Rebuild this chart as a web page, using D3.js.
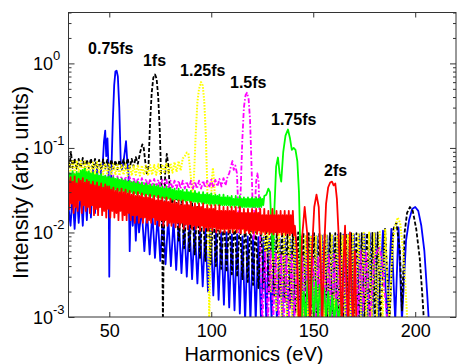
<!DOCTYPE html>
<html><head><meta charset="utf-8">
<script src="https://cdn.jsdelivr.net/npm/d3@7"></script>
<style>body{margin:0;background:#fff}svg{display:block}text{font-family:"Liberation Sans",Arial,sans-serif}</style>
</head><body><svg id="c" width="457" height="364"></svg>
<script>
// ---------------- data ----------------
const xTicks=[50,100,150,200];
const yTicks=[1e-3,1e-2,1e-1,1];
const yTickExp=["-3","-2","-1","0"];
const seriesNames=["0.75fs","1fs","1.25fs","1.5fs","1.75fs","2fs"];

const blue=[[30,.02],[31,.012],[32,.028],[33,.011],[34,.03],[35,.013],[36,.032],[37,.012],[38,.036],[39,.014],[40,.05],[41,.015],[42,.055],[43,.017],[44,.06],[45,.02],[46,.058],[46.8,.065],[47.4,.12],[48,.16],[48.5,.08],[49.1,.13],[49.6,.06],[50,.003],[50.4,.03],[51,.05],[51.7,.2],[52.4,.55],[53,.8],[53.6,.82],[54.2,.7],[54.9,.3],[55.6,.07],[56.2,.055],[57,.07],[57.6,.09],[58.2,.12],[58.8,.07],[59.4,.05],[60,.006],[60.6,.025],[61.5,.012],[62.3,.022],[63,.008],[63.8,.02],[64.6,.01],[65.9,.019],[67.2,.006],[68.5,.018],[69.8,.0055],[71.1,.017],[72.4,.005],[73.7,.016],[75,.0046],[76.3,.016],[77.6,.0042],[78.9,.015],[80.2,.004],[81.5,.014],[82.8,.0036],[84.1,.014],[85.4,.0033],[86.7,.013],[88,.003],[89.3,.013],[90.6,.0028],[91.9,.012],[93.2,.0025],[94.5,.012],[95.8,.0023],[97.1,.011],[98.4,.002],[99.7,.011],[101,.0018],[102.3,.0105],[103.6,.0016],[104.9,.01],[106.2,.0014],[107.5,.01],[108.8,.0013],[110.1,.0095],[111.4,.0012],[112.7,.0095],[114,.0011],[115.3,.009],[116.6,.0009],[117.9,.009],[119.2,.0009],[120.5,.009],[121.8,.0009],[123.1,.0088],[124.4,.0009],[125.7,.0088],[127,.0009],[128.3,.0085],[129.6,.0009],[130.9,.0085],[132.2,.0009],[133.5,.0085],[134.8,.0009],[136.1,.0085],[137.4,.0009],[138.7,.0085],[140,.0009],[141.3,.0088],[142.6,.0009],[143.9,.009],[145.2,.0009],[146.5,.009],[147.8,.0009],[149.1,.009],[150.4,.0009],[151.7,.009],[153,.0009],[154.3,.0092],[155.6,.0009],[156.9,.0092],[158.2,.0009],[159.5,.0092],[160.8,.0009],[162.1,.0094],[163.4,.0009],[164.7,.0094],[166,.0009],[167.3,.0095],[168.6,.0009],[169.9,.0095],[171.2,.0009],[172.5,.0095],[173.8,.0009],[175.1,.0097],[176.4,.0009],[177.7,.0098],[179,.0009],[180.3,.0098],[181.8,.0009],[184.2,.0105],[186.2,.0009],[188.3,.011],[190.2,.0009],[191.8,.0115],[193.5,.0009],[195.5,.008],[197,.014],[198.5,.019],[200,.02],[201.5,.018],[203,.012],[204.5,.006],[205.8,.002],[206.8,.0008]];

const black=[[30,.072],[30.6,.06],[31.2,.09],[32,.058],[33,.075],[34,.057],[35,.074],[36,.058],[37,.076],[38,.057],[39,.073],[40,.058],[41,.075],[42,.056],[43,.074],[44,.058],[45,.072],[46,.056],[47,.073],[48,.057],[49,.072],[50,.056],[51,.073],[52,.057],[53,.071],[54,.056],[55,.072],[56,.058],[57,.073],[58,.057],[59,.075],[60,.058],[61,.074],[62,.06],[63,.078],[64,.065],[65.2,.09],[66.2,.11],[66.9,.1],[67.6,.07],[68.4,.05],[69.2,.06],[70,.2],[70.8,.45],[71.6,.68],[72.4,.74],[73.2,.66],[74,.4],[74.8,.15],[75.5,.04],[76,.006],[76.3,.0008],[76.7,.008],[77.4,.05],[78.2,.085],[79,.06],[79.8,.03],[80.6,.02],[81.5,.026],[82.8,.025],[84.1,.008],[85.4,.024],[86.7,.0065],[88,.023],[89.3,.006],[90.6,.022],[91.9,.0055],[93.2,.021],[94.5,.005],[95.8,.02],[97.1,.0046],[98.4,.019],[99.7,.0042],[101,.018],[102.3,.004],[103.6,.017],[104.9,.0037],[106.2,.016],[107.5,.0034],[108.8,.015],[110.1,.0032],[111.4,.015],[112.7,.003],[114,.014],[115.3,.0028],[116.6,.014],[117.9,.0026],[119.2,.013],[120.5,.0024],[121.8,.013],[123.1,.0022],[124.4,.012],[125.7,.0021],[127,.012],[128.3,.002],[129.6,.0115],[130.9,.0018],[132.2,.011],[133.5,.0017],[134.8,.011],[136.1,.0015],[137.4,.0105],[138.7,.0013],[140,.0105],[141.3,.0011],[142.6,.01],[143.9,.0009],[145.2,.01],[146.5,.0009],[147.8,.0098],[149.1,.0009],[150.4,.0098],[151.7,.0009],[153,.0098],[154.3,.0009],[155.6,.0098],[156.9,.0009],[158.2,.0098],[159.5,.0009],[160.8,.0098],[162.1,.0009],[163.4,.0098],[164.7,.0009],[166,.0098],[167.3,.0009],[168.6,.0098],[169.9,.0009],[171.2,.0098],[172.5,.0009],[173.8,.0098],[175.1,.0009],[176.4,.0098],[177.7,.0009],[179,.0099],[180.3,.0009],[181.6,.01],[183,.0009],[185.2,.011],[187.4,.0009],[189.3,.011],[190.8,.013],[192.5,.006],[193.5,.0012],[194.8,.01],[196,.017],[197.4,.02],[198.8,.018],[200.5,.011],[202.2,.005],[203.5,.0018],[204.4,.0008]];

const yellow=[[30,.07],[31,.052],[32,.072],[33,.05],[34,.071],[35,.052],[36,.07],[37,.05],[38,.069],[39,.051],[40,.068],[41,.05],[42,.067],[43,.049],[44,.068],[45,.05],[46,.066],[47,.049],[48,.066],[49,.048],[50,.065],[51,.049],[52,.064],[53,.048],[54,.065],[55,.047],[56,.063],[57,.048],[58,.064],[59,.047],[60,.063],[61,.047],[62,.062],[63,.048],[64,.063],[65,.047],[66,.062],[67,.048],[68,.062],[69,.047],[70,.063],[71,.048],[72,.063],[73,.048],[74,.064],[75,.049],[76,.064],[77,.05],[78,.065],[79,.05],[80,.066],[81,.051],[82,.068],[83,.052],[84,.07],[85,.054],[86,.075],[87,.08],[88,.088],[88.8,.085],[89.5,.06],[90.2,.04],[90.9,.025],[91.6,.05],[92.4,.15],[93.2,.35],[94,.5],[95,.6],[95.8,.55],[96.6,.35],[97.3,.15],[98,.04],[98.6,.008],[99,.0008],[99.5,.005],[100.2,.04],[100.8,.058],[101.4,.04],[102,.02],[103.3,.011],[104.6,.018],[105.9,.011],[107.2,.017],[108.5,.0105],[109.8,.016],[111.1,.0105],[112.4,.015],[113.7,.01],[115,.014],[116.3,.01],[117.6,.0135],[118.9,.0098],[120.2,.013],[121.5,.0097],[122.8,.0125],[124.1,.0095],[125.4,.012],[126.7,.005],[128,.0115],[129.3,.002],[130.6,.011],[131.9,.0012],[133.2,.0105],[134.5,.001],[135.8,.01],[137.1,.0009],[138.4,.0098],[139.7,.0009],[141,.0095],[142.3,.0009],[143.6,.0094],[144.9,.0009],[146.2,.0093],[147.5,.0009],[148.8,.0092],[150.1,.0009],[151.4,.0092],[152.7,.0009],[154,.0092],[155.3,.0009],[156.6,.0092],[157.9,.0009],[159.2,.0093],[160.5,.0009],[161.8,.0093],[163.1,.0009],[164.4,.0094],[165.7,.0009],[167,.0095],[168.3,.0009],[169.6,.0096],[170.9,.0009],[172.2,.0098],[173.5,.0009],[174.8,.0099],[176.1,.0009],[177.4,.01],[178.7,.0009],[180,.01],[181.3,.0009],[182.6,.0102],[184,.0009],[185.3,.011],[187.2,.0009],[189,.008],[190.3,.012],[191.4,.015],[192.6,.013],[193.8,.007],[195,.003],[196.2,.0008]];

const magenta=[[30,.052],[31,.04],[32,.053],[33,.041],[34,.051],[35,.04],[36,.052],[37,.039],[38,.05],[39,.04],[40,.05],[41,.039],[42,.049],[43,.038],[44,.049],[45,.038],[46,.048],[47,.038],[48,.048],[49,.037],[50,.047],[51,.037],[52,.047],[53,.037],[54,.046],[55,.036],[56,.046],[57,.036],[58,.046],[59,.036],[60,.045],[61,.036],[62,.045],[63,.035],[64,.044],[65,.035],[66,.044],[67,.035],[68,.043],[69,.034],[70,.043],[71,.034],[72,.043],[73,.034],[74,.042],[75,.034],[76,.042],[77,.033],[78,.042],[79,.033],[80,.041],[81,.033],[82,.041],[83,.033],[84,.041],[85,.033],[86,.041],[87,.033],[88,.04],[89,.033],[90,.041],[91,.033],[92,.04],[93,.033],[94,.041],[95,.033],[96,.041],[97,.034],[98,.041],[99,.034],[100,.042],[101,.034],[102,.042],[103,.035],[104,.043],[105,.035],[106,.044],[107,.036],[108,.046],[108.8,.05],[109.6,.06],[110.4,.07],[111,.055],[111.8,.062],[112.6,.05],[113.2,.02],[113.8,.01],[114.4,.03],[115.2,.12],[116,.3],[116.8,.42],[117.5,.45],[118.3,.38],[119,.22],[119.6,.08],[120.2,.025],[120.8,.008],[121.4,.02],[122,.04],[122.6,.05],[123.2,.04],[123.8,.012],[124.4,.003],[125,.0008],[126.5,.006],[127.8,.0009],[129.1,.006],[130.4,.0009],[131.7,.0058],[133,.0009],[134.3,.0056],[135.6,.0009],[136.9,.0055],[138.2,.0009],[139.5,.0054],[140.8,.0009],[142.1,.0053],[143.4,.0009],[144.7,.0052],[146,.0009],[147.3,.0052],[148.6,.0009],[149.9,.0052],[151.2,.0009],[152.5,.0052],[153.8,.0009],[155.1,.0053],[156.4,.0009],[157.7,.0054],[159,.0009],[160.3,.0055],[161.6,.0009],[162.9,.0055],[164.2,.0009],[165.5,.0056],[166.8,.0009],[168.1,.0057],[169.4,.0009],[170.7,.0058],[172,.0009],[173.3,.006],[174.6,.0012],[176,.006],[177.8,.0009],[180,.005],[181.3,.006],[182.4,.0066],[183.6,.005],[185,.002],[186.5,.0008]];

const green=[[30,.052],[30.5,.038],[31,.05],[31.5,.036],[32,.053],[32.5,.039],[33,.049],[33.5,.036],[34,.052],[34.5,.038],[35,.05],[35.5,.037],[36,.054],[36.5,.039],[37,.055],[37.5,.04],[38,.057],[38.5,.038],[39,.052],[39.5,.036],[40,.053],[40.5,.037],[41,.05],[41.5,.035],[42,.051],[42.5,.036],[43,.048],[43.5,.034],[44,.05],[44.5,.035],[45,.047],[45.5,.033],[46,.049],[46.5,.034],[47,.046],[47.5,.033],[48,.047],[48.5,.033],[49,.045],[49.5,.032],[50,.046],[50.5,.032],[51,.044],[51.5,.031],[52,.045],[52.5,.032],[53,.043],[53.5,.031],[54,.044],[54.5,.031],[55,.042],[55.5,.03],[56,.043],[56.5,.031],[57,.041],[57.5,.03],[58,.042],[58.5,.03],[59,.04],[59.5,.029],[60,.041],[60.5,.03],[61,.039],[61.5,.029],[62,.04],[62.5,.029],[63,.038],[63.5,.028],[64,.04],[64.5,.029],[65,.037],[65.5,.028],[66,.039],[66.5,.028],[67,.036],[67.5,.027],[68,.038],[68.5,.028],[69,.036],[69.5,.027],[70,.037],[70.5,.027],[71,.035],[71.5,.026],[72,.037],[72.5,.027],[73,.035],[73.5,.026],[74,.036],[74.5,.026],[75,.034],[75.5,.025],[76,.035],[76.5,.026],[77,.033],[77.5,.025],[78,.035],[78.5,.025],[79,.033],[79.5,.025],[80,.034],[80.5,.025],[81,.032],[81.5,.024],[82,.033],[82.5,.025],[83,.031],[83.5,.024],[84,.033],[84.5,.024],[85,.031],[85.5,.024],[86,.032],[86.5,.024],[87,.03],[87.5,.023],[88,.032],[88.5,.024],[89,.03],[89.5,.023],[90,.031],[90.5,.023],[91,.029],[91.5,.023],[92,.031],[92.5,.023],[93,.029],[93.5,.022],[94,.03],[94.5,.023],[95,.028],[95.5,.022],[96,.03],[96.5,.022],[97,.028],[97.5,.022],[98,.029],[98.5,.022],[99,.028],[99.5,.021],[100,.029],[100.5,.022],[101,.027],[101.5,.021],[102,.028],[102.5,.022],[103,.027],[103.5,.021],[104,.028],[104.5,.021],[105,.026],[105.5,.021],[106,.028],[106.5,.021],[107,.026],[107.5,.021],[108,.027],[108.5,.021],[109,.026],[109.5,.02],[110,.027],[110.5,.021],[111,.025],[111.5,.02],[112,.027],[112.5,.021],[113,.025],[113.5,.02],[114,.027],[114.5,.02],[115,.025],[115.5,.02],[116,.026],[116.5,.02],[117,.025],[117.5,.02],[118,.026],[118.5,.02],[119,.025],[119.5,.02],[120,.026],[120.5,.02],[121,.025],[121.5,.02],[122,.026],[122.5,.02],[123,.025],[123.5,.02],[124,.026],[124.5,.02],[125,.025],[125.5,.021],[126,.027],[127,.028],[128,.033],[128.8,.03],[129.5,.012],[130.3,.005],[131,.02],[131.8,.06],[132.7,.077],[133.5,.05],[134.3,.04],[135.3,.09],[136.4,.14],[137.6,.165],[138.6,.13],[139.5,.095],[140.4,.1],[141.3,.095],[142.2,.07],[143,.03],[143.7,.006],[144.3,.0009],[145.3,.002],[146.3,.0009],[147.3,.0028],[148.3,.001],[149.3,.0029],[150.3,.0009],[151.3,.0026],[152.3,.001],[153.3,.0024],[154.3,.0009],[155.3,.0022],[156.3,.001],[157.3,.002],[158.3,.0009],[159.3,.0018],[160.3,.0009],[161.3,.0016],[162.3,.0009],[163.3,.0014],[164.5,.0008]];

const red=[[30,.042],[30.5,.019],[31,.045],[31.5,.022],[32,.04],[32.5,.017],[33,.046],[33.5,.02],[34,.038],[34.5,.018],[35,.043],[35.5,.024],[36,.041],[36.5,.017],[37,.044],[37.5,.021],[38,.039],[38.5,.018],[39,.042],[39.5,.02],[40,.04],[40.5,.017],[41,.037],[41.5,.021],[42,.04],[42.5,.016],[43,.036],[43.5,.019],[44,.039],[44.5,.016],[45,.035],[45.5,.02],[46,.038],[46.5,.016],[47,.034],[47.5,.018],[48,.037],[48.5,.015],[49,.035],[49.5,.019],[50,.035],[50.5,.015],[51,.032],[51.5,.018],[52,.034],[52.5,.015],[53,.031],[53.5,.017],[54,.033],[54.5,.014],[55,.03],[55.5,.018],[56,.033],[56.5,.014],[57,.03],[57.5,.016],[58,.032],[58.5,.014],[59,.029],[59.5,.017],[60,.031],[60.5,.014],[61,.028],[61.5,.016],[62,.03],[62.5,.013],[63,.027],[63.5,.016],[64,.03],[64.5,.013],[65,.027],[65.5,.015],[66,.029],[66.5,.013],[67,.026],[67.5,.015],[68,.028],[68.5,.013],[69,.026],[69.5,.014],[70,.028],[70.5,.013],[71,.025],[71.5,.015],[72,.027],[72.5,.0125],[73,.024],[73.5,.014],[74,.027],[74.5,.012],[75,.024],[75.5,.014],[76,.026],[76.5,.012],[77,.023],[77.5,.014],[78,.026],[78.5,.012],[79,.023],[79.5,.013],[80,.025],[80.5,.012],[81,.022],[81.5,.013],[82,.024],[82.5,.0115],[83,.022],[83.5,.013],[84,.024],[84.5,.0115],[85,.021],[85.5,.013],[86,.024],[86.5,.011],[87,.021],[87.5,.0125],[88,.023],[88.5,.011],[89,.021],[89.5,.0125],[90,.023],[90.5,.011],[91,.02],[91.5,.012],[92,.022],[92.5,.011],[93,.02],[93.5,.012],[94,.022],[94.5,.0105],[95,.02],[95.5,.012],[96,.022],[96.5,.0105],[97,.019],[97.5,.0115],[98,.021],[98.5,.0105],[99,.019],[99.5,.0115],[100,.021],[100.5,.0105],[101,.019],[101.5,.0115],[102,.021],[102.5,.01],[103,.018],[103.5,.011],[104,.021],[104.5,.01],[105,.018],[105.5,.011],[106,.02],[106.5,.01],[107,.018],[107.5,.011],[108,.02],[108.5,.01],[109,.018],[109.5,.011],[110,.02],[110.5,.01],[111,.018],[111.5,.011],[112,.02],[112.5,.01],[113,.017],[113.5,.011],[114,.02],[114.5,.0098],[115,.017],[115.5,.011],[116,.019],[116.5,.0098],[117,.017],[117.5,.0105],[118,.019],[118.5,.0098],[119,.017],[119.5,.0105],[120,.019],[120.5,.0098],[121,.017],[121.5,.0105],[122,.019],[122.5,.0096],[123,.017],[123.5,.0105],[124,.019],[124.5,.0096],[125,.016],[125.5,.0102],[126,.019],[126.5,.0095],[127,.016],[127.5,.0102],[128,.018],[128.5,.0095],[129,.016],[129.5,.01],[130,.019],[130.5,.0095],[131,.016],[131.5,.01],[132,.018],[132.5,.0094],[133,.016],[133.5,.01],[134,.018],[134.5,.0094],[135,.016],[135.5,.01],[136,.018],[136.5,.0093],[137,.016],[137.5,.0098],[138,.018],[138.5,.0093],[139,.016],[139.5,.0098],[140,.018],[140.5,.0092],[141,.012],[142,.006],[142.8,.001],[143.6,.0008],[144.4,.008],[145.8,.02],[147,.01],[147.8,.002],[148.5,.0008],[149.4,.006],[150.5,.02],[151.6,.028],[152.7,.02],[153.6,.005],[154.4,.0008],[155.3,.006],[156.3,.022],[157.3,.034],[158.3,.039],[159.2,.04],[160,.036],[160.8,.038],[161.6,.025],[162.4,.01],[163.2,.003],[164,.0008],[164.8,.004],[165.6,.012],[166.4,.002],[167.2,.0008],[168,.01],[168.8,.002],[169.6,.0008],[170.4,.006],[171.2,.0008]];

// annotation anchor points (data units) for the series labels
const labelAnchors=[[39.6,1.3],[66.5,0.94],[84.7,0.716],[109.2,0.517],[129.3,0.189],[155.3,0.0471]];

// ---------------- chart ----------------
const svg=d3.select("#c");
const L=68.5,R=456,T=12.5,B=317;
const x=d3.scaleLinear().domain([30,220]).range([L,R]);
const y=d3.scaleLog().domain([1e-3,4]).range([B,T]);

svg.append("defs").append("clipPath").attr("id","clip")
  .append("rect").attr("x",L).attr("y",T).attr("width",R-L).attr("height",B-T);

const line=d3.line().x(d=>x(d[0])).y(d=>y(d[1]));
const styles=[
  {data:blue,color:"#0000ff",dash:null,w:1.8},
  {data:black,color:"#000000",dash:"4,2",w:1.8},
  {data:yellow,color:"#ffff00",dash:"1.6,1.4",w:2},
  {data:magenta,color:"#ff00ff",dash:"5,2,1.5,2",w:1.8},
  {data:green,color:"#00ff00",dash:null,w:1.8},
  {data:red,color:"#ff0000",dash:null,w:1.8}
];
const g=svg.append("g").attr("clip-path","url(#clip)");
styles.forEach(s=>{
  g.append("path").datum(s.data).attr("d",line)
   .attr("fill","none").attr("stroke",s.color).attr("stroke-width",s.w)
   .attr("stroke-linejoin","round")
   .attr("stroke-dasharray",s.dash);
});

// axes
const axG=svg.append("g");
const ax=(gen,tr)=>{const a=axG.append("g").attr("transform",tr).call(gen);a.select(".domain").remove();return a;};
const xb=ax(d3.axisBottom(x).tickValues(xTicks).tickSize(-5).tickPadding(7).tickFormat(d3.format("d")),`translate(0,${B})`);
xb.selectAll("text").attr("font-size",18).attr("fill","#000").attr("font-family","Liberation Sans, Arial, sans-serif");
ax(d3.axisTop(x).tickValues(xTicks).tickSize(-5).tickFormat(""),`translate(0,${T})`);
const minor=[];
[1e-3,1e-2,1e-1,1].forEach(d=>{for(let k=2;k<=9;k++){const v=d*k;if(v<=4)minor.push(v);}});
ax(d3.axisLeft(y).tickValues(yTicks).tickSize(-6).tickFormat(""),`translate(${L},0)`);
ax(d3.axisLeft(y).tickValues(minor).tickSize(-3).tickFormat(""),`translate(${L},0)`);
ax(d3.axisRight(y).tickValues(yTicks).tickSize(-6).tickFormat(""),`translate(${R},0)`);
ax(d3.axisRight(y).tickValues(minor).tickSize(-3).tickFormat(""),`translate(${R},0)`);
axG.selectAll("line").attr("stroke","#333");

svg.append("rect").attr("x",L).attr("y",T).attr("width",R-L).attr("height",B-T)
  .attr("fill","none").attr("stroke","#333").attr("stroke-width",1);

// y tick labels 10^n
const yl=svg.append("g").selectAll("text").data(yTicks).join("text")
  .attr("x",33).attr("y",d=>y(d)+6.5).attr("font-size",18).attr("fill","#000");
yl.append("tspan").text("10");
yl.append("tspan").attr("dy",-9.5).attr("font-size",13).text((d,i)=>yTickExp[i]);

// axis titles
svg.append("text").attr("x",254).attr("y",361).attr("text-anchor","middle")
  .attr("font-size",20).attr("fill","#000").text("Harmonics (eV)");
svg.append("text").attr("transform","translate(27.5,182.5) rotate(-90)").attr("text-anchor","middle")
  .attr("font-size",22).attr("fill","#000").text("Intensity (arb. units)");

// series labels
svg.append("g").selectAll("text").data(seriesNames).join("text")
  .attr("x",(d,i)=>x(labelAnchors[i][0])).attr("y",(d,i)=>y(labelAnchors[i][1]))
  .attr("font-size",16).attr("font-weight","bold").attr("fill","#000").text(d=>d);
</script></body></html>
